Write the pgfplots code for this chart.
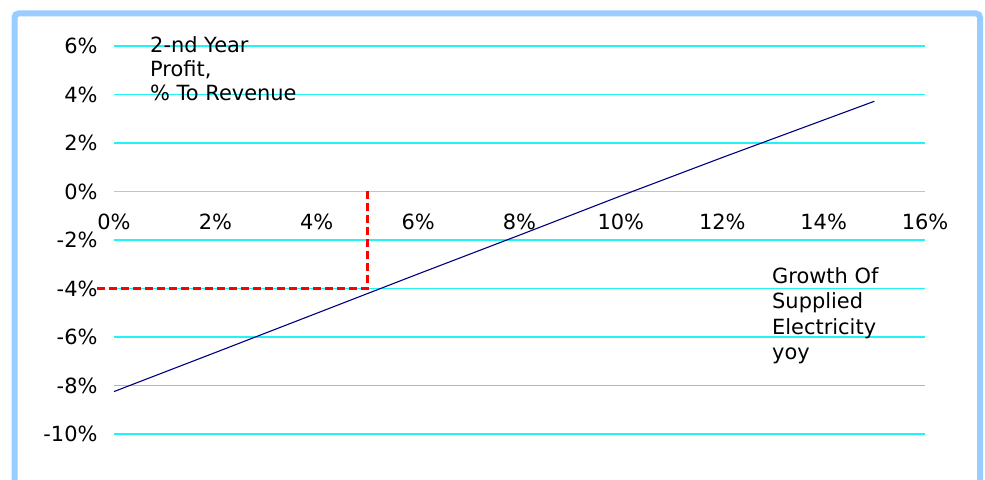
\documentclass[border=0pt]{standalone}
\usepackage{fontspec}
\setmainfont{DejaVu Sans}
\usepackage{pgfplots}
\pgfplotsset{compat=1.18}
\definecolor{framec}{HTML}{99CCFF}
\definecolor{gridc}{HTML}{22F4F4}
\definecolor{navyc}{HTML}{000080}
\begin{document}
\begin{tikzpicture}[x=1bp,y=1bp]
\useasboundingbox (0,0) rectangle (985,480);
\fill[white] (0,0) rectangle (985,480);
\draw[framec, line width=6bp, rounded corners=4bp] (14.5,-30) -- (14.5,466.5) -- (980,466.5) -- (980,-30);
\begin{axis}[
  at={(114bp,-2.5bp)}, anchor=south west,
  scale only axis, width=811bp, height=436.5bp,
  xmin=0, xmax=16, ymin=-12, ymax=6,
  axis x line=middle, axis y line=left,
  x axis line style={-, color=framec, line width=1.6bp},
  y axis line style={-, draw=none},
  hide obscured x ticks=false, hide obscured y ticks=false,
  major tick length=0,
  xtick={0,2,...,16},
  xticklabels={0\%,2\%,4\%,6\%,8\%,10\%,12\%,14\%,16\%},
  ytick={-10,-8,...,6},
  yticklabels={-10\%,-8\%,-6\%,-4\%,-2\%,0\%,2\%,4\%,6\%},
  ticklabel style={font=\fontsize{21}{24}\selectfont},
  xticklabel style={yshift=-19bp},
  yticklabel style={xshift=-13bp},
  ymajorgrids,
  major grid style={color=gridc, line width=1.4bp},
  clip=false,
]
\addplot[color=navyc, line width=1.1bp] coordinates {
  (0,-8.25) (2,-6.64) (4,-5.02) (6,-3.40) (8,-1.80) (10,-0.18) (12,1.40) (15,3.72)
};
\addplot[color=red, line width=2.2bp, dash pattern=on 8bp off 4bp] coordinates {
  (-0.34,-4) (5,-4) (5,0.08)
};
\end{axis}
\begin{scope}[every node/.style={inner sep=0pt, anchor=base west, font=\fontsize{21}{24}\selectfont}]
\node at (150,427) {2-nd Year};
\node at (150,403) {Profit,};
\node at (150,379) {\% To Revenue};
\node at (772,196.5) {Growth Of};
\node at (772,171) {Supplied};
\node at (772,145.5) {Electricity};
\node at (772,120) {yoy};
\end{scope}
\end{tikzpicture}
\end{document}
